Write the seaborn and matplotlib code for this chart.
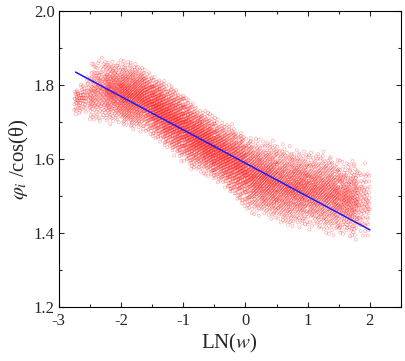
import numpy as np
import pandas as pd
import matplotlib
matplotlib.use("Agg")
import matplotlib.pyplot as plt
import seaborn as sns

# Envelope of the point cloud (x anchor, top, bottom)
env_x = [-2.73, -2.4, -2.1, -1.65, -1.4, -0.85, -0.35, 0.1, 0.65, 1.15, 1.7, 2.0]
env_top = [1.79, 1.88, 1.875, 1.86, 1.83, 1.76, 1.705, 1.67, 1.64, 1.63, 1.60, 1.59]
env_bot = [1.72, 1.69, 1.69, 1.67, 1.64, 1.57, 1.52, 1.445, 1.415, 1.40, 1.375, 1.38]

# Rough number of points in each x slice
bin_edges = [-2.75, -2.5, -2.25, -2.0, -1.5, -1.0, -0.5, 0.0, 0.5, 1.0, 1.5, 1.8, 2.0]
bin_counts = [80, 160, 260, 650, 780, 780, 720, 650, 580, 520, 280, 90]

# Fitted line, end points
fit_x = [-2.73, 2.0]
fit_y = [1.835, 1.409]

# Fill each slice evenly with a 3-d R-sequence (no random numbers)
g = 1.2207440846057596
alpha = np.array([1 / g, 1 / g**2, 1 / g**3])
xs, ys = [], []
k = 0
for lo, hi, n in zip(bin_edges[:-1], bin_edges[1:], bin_counts):
    idx = np.arange(k, k + n)
    k += n
    u = (0.5 + np.outer(idx, alpha)) % 1.0
    x = lo + (hi - lo) * u[:, 0]
    z = u[:, 1] + u[:, 2] - 1.0
    top = np.interp(x, env_x, env_top)
    bot = np.interp(x, env_x, env_bot)
    y = (top + bot) / 2 + (top - bot) / 2 * z
    xs.append(x)
    ys.append(y)

pts = pd.DataFrame({"x": np.concatenate(xs), "y": np.concatenate(ys)})
line = pd.DataFrame({"x": fit_x, "y": fit_y})

sns.set_style("ticks")
plt.rcParams["font.family"] = ["Liberation Serif", "DejaVu Serif"]
plt.rcParams["mathtext.fontset"] = "stix"
plt.rcParams["axes.unicode_minus"] = False

fig = plt.figure(figsize=(4.05, 3.61), dpi=100)
ax = fig.add_axes([0.145, 0.149, 0.845, 0.8205])

sns.scatterplot(data=pts, x="x", y="y", ax=ax, marker="o", s=5,
                facecolors="none", edgecolors="#ff2a2a", linewidths=0.4,
                alpha=0.45, legend=False)
sns.lineplot(data=line, x="x", y="y", ax=ax, color="#1a1aff", linewidth=1.1)

ax.set_xlim(-3, 2.5)
ax.set_ylim(1.2, 2.0)
ax.set_xticks([-3, -2, -1, 0, 1, 2])
ax.set_xticks(np.arange(-3, 2.51, 0.5), minor=True)
ax.set_yticks([1.2, 1.4, 1.6, 1.8, 2.0])
ax.set_yticks(np.arange(1.2, 2.01, 0.1), minor=True)
ax.set_yticklabels(["1.2", "1.4", "1.6", "1.8", "2.0"])
ax.tick_params(which="both", direction="in", top=True, right=True,
               width=0.8, labelsize=12)
ax.tick_params(axis="x", which="both", pad=4)
ax.tick_params(axis="y", which="both", pad=3)
ax.tick_params(which="major", length=3.5)
ax.tick_params(which="minor", length=2)
for sp in ax.spines.values():
    sp.set_linewidth(0.8)
    sp.set_color("black")

ax.set_xlabel(r"LN($w$)", fontsize=15, labelpad=2)
ax.set_ylabel(r"$\varphi_i$ /cos(θ)", fontsize=15, labelpad=2)

fig.savefig("out.png", dpi=100)
